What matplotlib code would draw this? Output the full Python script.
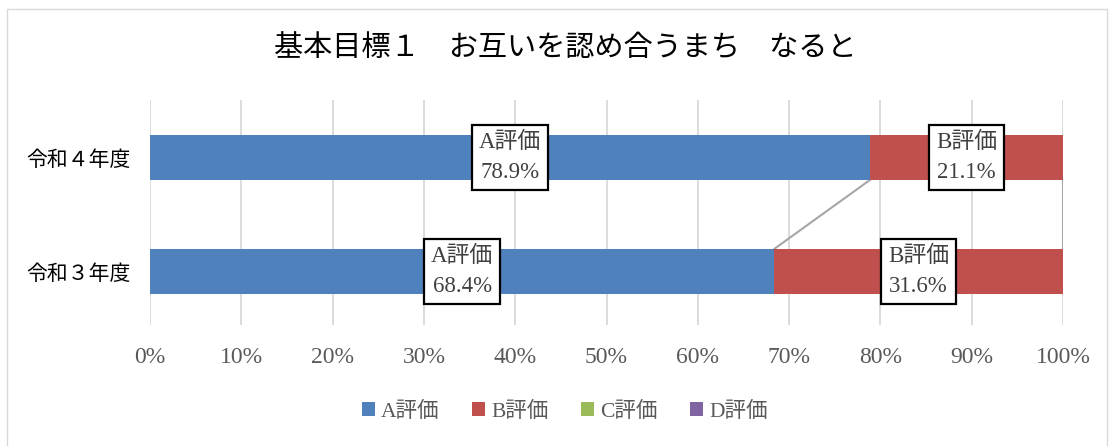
import matplotlib
matplotlib.use("Agg")
import matplotlib.pyplot as plt
from matplotlib.patches import Rectangle
from matplotlib.ticker import FuncFormatter

title = "基本目標１　お互いを認め合うまち　なると"
categories = ["令和３年度", "令和４年度"]
series_names = ["A評価", "B評価", "C評価", "D評価"]
values = {
    "A評価": [68.4, 78.9],
    "B評価": [31.6, 21.1],
    "C評価": [0.0, 0.0],
    "D評価": [0.0, 0.0],
}
colors = ["#4f81bd", "#c0504d", "#9bbb59", "#8064a2"]
xticks = list(range(0, 101, 10))

serif = ["Liberation Serif", "Noto Sans CJK JP"]
sans = ["Noto Sans CJK JP", "DejaVu Sans"]

fig = plt.figure(figsize=(11.14, 4.46), dpi=100)
fig.patches.append(Rectangle((0.006, -0.01), 0.988, 0.99, transform=fig.transFigure,
                             fill=False, edgecolor="#d9d9d9", linewidth=1.0))
ax = fig.add_axes([0.1347, 0.2713, 0.8195, 0.5045])

ypos = list(range(len(categories)))
bar_h = 0.395
lefts = [0.0] * len(categories)
for name, col in zip(series_names, colors):
    vals = values[name]
    ax.barh(ypos, vals, left=lefts, height=bar_h, color=col, label=name, zorder=3)
    for i, v in enumerate(vals):
        if v > 0:
            ax.text(lefts[i] + v / 2, ypos[i], f"{name}\n{v:.1f}%", ha="center", va="center",
                    fontsize=16.5, family=serif, color="#404040", linespacing=1.55, zorder=5,
                    bbox=dict(boxstyle="square,pad=0.3", facecolor="white",
                              edgecolor="black", linewidth=1.6))
    lefts = [l + v for l, v in zip(lefts, vals)]

# series lines between bars
cum = [0.0] * len(categories)
for name in series_names[:2]:
    cum = [c + v for c, v in zip(cum, values[name])]
    ax.plot([cum[0], cum[1]], [ypos[0] + bar_h / 2, ypos[1] - bar_h / 2],
            color="#a6a6a6", linewidth=1.5, zorder=2)

ax.set_xlim(0, 100)
ax.set_ylim(-0.47, 1.5)
ax.set_xticks(xticks)
ax.xaxis.set_major_formatter(FuncFormatter(lambda v, p: f"{v:.0f}%"))
ax.set_yticks(ypos)
ax.set_yticklabels(categories, family=sans, fontsize=15, color="#000000")
for lab in ax.get_xticklabels():
    lab.set_family(serif)
    lab.set_fontsize(17)
    lab.set_color("#595959")
ax.tick_params(axis="both", length=0)
ax.tick_params(axis="x", pad=16)
ax.tick_params(axis="y", pad=14)
ax.grid(axis="x", color="#d9d9d9", linewidth=1.3, zorder=0)
for s in ax.spines.values():
    s.set_visible(False)

fig.text(0.507, 0.89, title, ha="center", va="center", fontsize=21,
         family=sans, color="#000000")

leg = fig.legend(loc="center", bbox_to_anchor=(0.507, 0.077), ncol=4, frameon=False,
                 prop={"family": serif, "size": 15.5}, handlelength=0.6, handleheight=0.6,
                 handletextpad=0.3, columnspacing=1.5)
for t in leg.get_texts():
    t.set_color("#595959")

fig.savefig("out.png", dpi=100)
